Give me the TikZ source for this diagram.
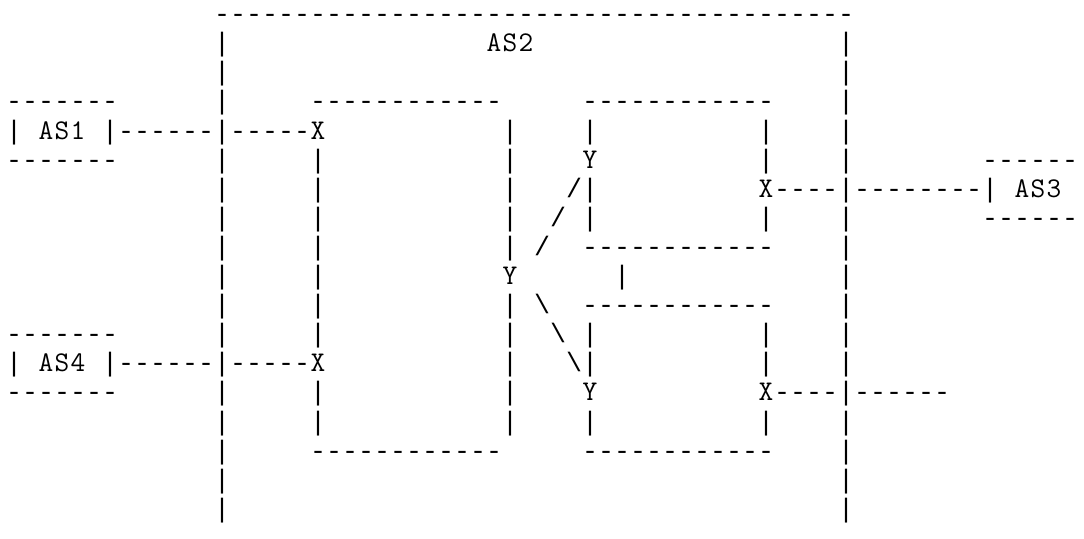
\documentclass[tikz,border=0pt]{standalone}
\usepackage{fontspec}
\setmonofont{Liberation Mono}
\tikzset{
  txt/.style={anchor=base west, inner sep=0pt, outer sep=0pt,
    font=\ttfamily\fontsize{26.6667pt}{29pt}\selectfont, text=black},
  ltr/.style={anchor=base, inner sep=0pt, outer sep=0pt,
    font=\fontfamily{lmtt}\fontsize{28.5pt}{29pt}\selectfont, text=black}
}
% #1 = row, #2 = column, #3 = characters
\newcommand\asciiseg[3]{\node[txt] (n#1-#2) at ({6+16*#2},{22.6+29.1*#1}) {#3};}
\newcommand\asciilt[3]{\node[ltr] (n#1-#2) at ({14+16*#2},{22.6+29.1*#1}) {#3};}
\begin{document}
\begin{tikzpicture}[x=1pt,y=-1pt]
\fill[white] (0,0) rectangle (1084,538);
\useasboundingbox (0,0) rectangle (1084,538);
% row 0
\asciiseg{0}{13}{----------------------------------------}
% row 1
\asciiseg{1}{13}{|}\asciilt{1}{30}{A}\asciilt{1}{31}{S}\asciilt{1}{32}{2}\asciiseg{1}{52}{|}
% row 2
\asciiseg{2}{13}{|}\asciiseg{2}{52}{|}
% row 3
\asciiseg{3}{0}{-------}\asciiseg{3}{13}{|}\asciiseg{3}{19}{------------}
\asciiseg{3}{36}{------------}\asciiseg{3}{52}{|}
% row 4
\asciiseg{4}{0}{|}\asciilt{4}{2}{A}\asciilt{4}{3}{S}\asciilt{4}{4}{1}
\asciiseg{4}{6}{|------|-----}\asciilt{4}{19}{X}
\asciiseg{4}{31}{|}\asciiseg{4}{36}{|}\asciiseg{4}{47}{|}\asciiseg{4}{52}{|}
% row 5
\asciiseg{5}{0}{-------}\asciiseg{5}{13}{|}\asciiseg{5}{19}{|}\asciiseg{5}{31}{|}
\asciilt{5}{36}{Y}\asciiseg{5}{47}{|}\asciiseg{5}{52}{|}\asciiseg{5}{61}{------}
% row 6
\asciiseg{6}{13}{|}\asciiseg{6}{19}{|}\asciiseg{6}{31}{|}\asciiseg{6}{35}{/|}
\asciilt{6}{47}{X}\asciiseg{6}{48}{----|--------|}
\asciilt{6}{63}{A}\asciilt{6}{64}{S}\asciilt{6}{65}{3}
% row 7
\asciiseg{7}{13}{|}\asciiseg{7}{19}{|}\asciiseg{7}{31}{|}\asciiseg{7}{34}{/ |}
\asciiseg{7}{47}{|}\asciiseg{7}{52}{|}\asciiseg{7}{61}{------}
% row 8
\asciiseg{8}{13}{|}\asciiseg{8}{19}{|}\asciiseg{8}{31}{|}\asciiseg{8}{33}{/}
\asciiseg{8}{36}{------------}\asciiseg{8}{52}{|}
% row 9
\asciiseg{9}{13}{|}\asciiseg{9}{19}{|}\asciilt{9}{31}{Y}\asciiseg{9}{38}{|}
\asciiseg{9}{52}{|}
% row 10
\asciiseg{10}{13}{|}\asciiseg{10}{19}{|}\asciiseg{10}{31}{|}
\asciiseg{10}{33}{\textbackslash}\asciiseg{10}{36}{------------}\asciiseg{10}{52}{|}
% row 11
\asciiseg{11}{0}{-------}\asciiseg{11}{13}{|}\asciiseg{11}{19}{|}\asciiseg{11}{31}{|}
\asciiseg{11}{34}{\textbackslash{} |}\asciiseg{11}{47}{|}\asciiseg{11}{52}{|}
% row 12
\asciiseg{12}{0}{|}\asciilt{12}{2}{A}\asciilt{12}{3}{S}\asciilt{12}{4}{4}
\asciiseg{12}{6}{|------|-----}\asciilt{12}{19}{X}\asciiseg{12}{31}{|}
\asciiseg{12}{35}{\textbackslash|}\asciiseg{12}{47}{|}\asciiseg{12}{52}{|}
% row 13
\asciiseg{13}{0}{-------}\asciiseg{13}{13}{|}\asciiseg{13}{19}{|}\asciiseg{13}{31}{|}
\asciilt{13}{36}{Y}\asciilt{13}{47}{X}\asciiseg{13}{48}{----|------}
% row 14
\asciiseg{14}{13}{|}\asciiseg{14}{19}{|}\asciiseg{14}{31}{|}\asciiseg{14}{36}{|}
\asciiseg{14}{47}{|}\asciiseg{14}{52}{|}
% row 15
\asciiseg{15}{13}{|}\asciiseg{15}{19}{------------}\asciiseg{15}{36}{------------}
\asciiseg{15}{52}{|}
% row 16
\asciiseg{16}{13}{|}\asciiseg{16}{52}{|}
% row 17
\asciiseg{17}{13}{|}\asciiseg{17}{52}{|}
\end{tikzpicture}
\end{document}
